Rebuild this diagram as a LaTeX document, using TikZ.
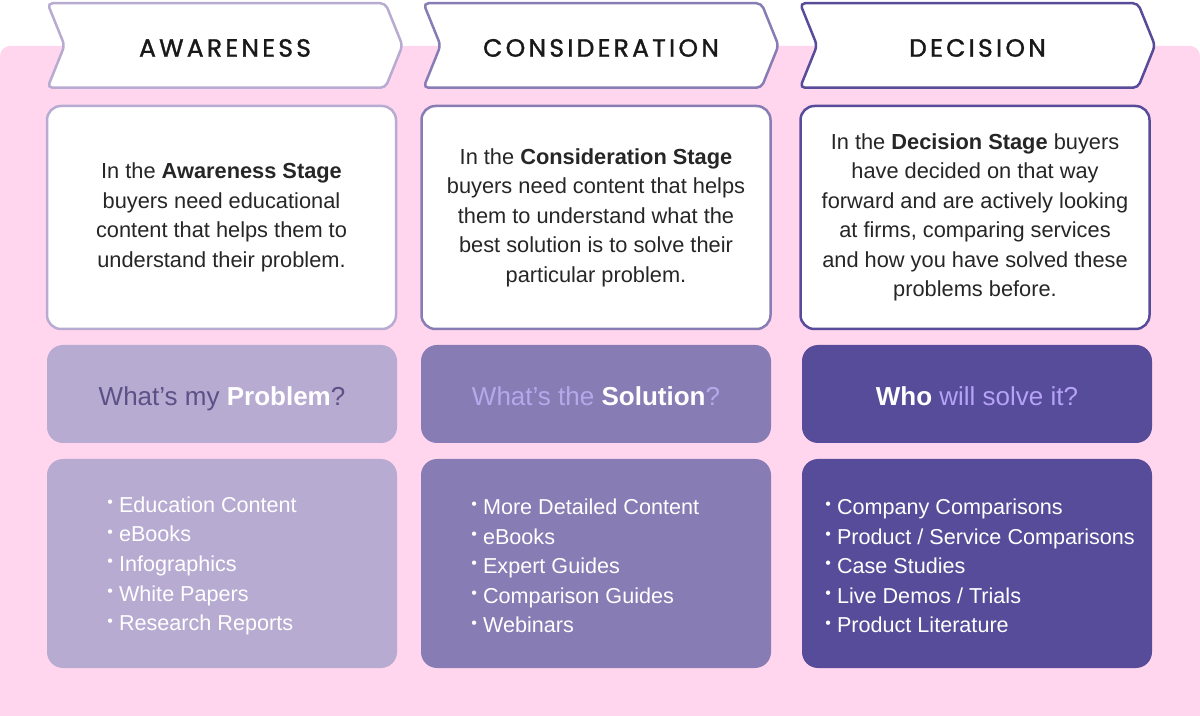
\documentclass[tikz,border=0pt]{standalone}
\usepackage{fontspec}
\setmainfont{Liberation Sans}
\newfontfamily\headfont[LetterSpace=13,FakeBold=1.3]{Poppins}
\usetikzlibrary{shapes.symbols}
\definecolor{bgpink}{RGB}{255,214,238}
\definecolor{awlight}{RGB}{184,171,210}
\definecolor{cnmid}{RGB}{136,124,181}
\definecolor{dcdark}{RGB}{87,76,153}
\definecolor{bodygray}{RGB}{38,38,38}
\definecolor{qdark}{RGB}{91,81,134}
\definecolor{qlight}{RGB}{180,170,235}
\definecolor{qlilac}{RGB}{181,163,245}
\tikzset{
  stagehead/.style={line width=1.25pt,fill=white,shape=signal,signal to=east,signal from=west,signal pointer angle=136,rounded corners=2.5pt,minimum width=177.5pt,minimum height=42.25pt,text height=11.2pt,text depth=0pt,font=\headfont\fontsize{12.5}{14}\selectfont,text=black!90},
  textbox/.style={line width=1.25pt,fill=white,rounded corners=7pt,minimum width=174.5pt,minimum height=111.5pt,align=center,font=\fontsize{10.9}{14.75}\selectfont,text=bodygray},
  qbox/.style={rounded corners=8pt,minimum width=175pt,minimum height=49pt,text height=13.2pt,text depth=2pt,font=\fontsize{13}{16}\selectfont},
  listbox/.style={rounded corners=8pt,minimum width=175pt,minimum height=104.5pt},
  listtext/.style={anchor=west,align=left,inner sep=0pt,text=white,font=\fontsize{10.8}{14.8}\selectfont}
}
\newcommand{\itm}{\raisebox{.22em}{\fontsize{8}{8}\selectfont •}\hspace{.28em}}

\begin{document}
\begin{tikzpicture}[x=0.5pt,y=-0.5pt]
\useasboundingbox (0,0) rectangle (1200,716);
\clip (0,0) rectangle (1200,716);
\fill[bgpink,rounded corners=5pt] (0,46) rectangle (1200,740);
% stage headers
\node[stagehead,draw=awlight] (awHead) at (225,45.5) {AWARENESS};
\node[stagehead,draw=cnmid] (cnHead) at (601,45.5) {CONSIDERATION};
\node[stagehead,draw=dcdark] (dcHead) at (977.5,45.5) {DECISION};
% descriptions
\node[textbox,draw=awlight] (awText) at (221.5,217.5) {In the \textbf{Awareness Stage}\\buyers need educational\\content that helps them to\\understand their problem.};
\node[textbox,draw=cnmid] (cnText) at (596,217.5) {In the \textbf{Consideration Stage}\\buyers need content that helps\\them to understand what the\\best solution is to solve their\\particular problem.};
\node[textbox,draw=dcdark] (dcText) at (975,217.5) {In the \textbf{Decision Stage} buyers\\have decided on that way\\forward and are actively looking\\at firms, comparing services\\and how you have solved these\\problems before.};
% questions
\node[qbox,fill=awlight,text=qdark] (awQ) at (222,394) {What’s my \textcolor{white}{\textbf{Problem}}?};
\node[qbox,fill=cnmid,text=qlight] (cnQ) at (596,394) {What’s the \textcolor{white}{\textbf{Solution}}?};
\node[qbox,fill=dcdark,text=qlilac] (dcQ) at (977,394) {\textcolor{white}{\textbf{Who}} will solve it?};
% content lists
\node[listbox,fill=awlight] (awList) at (222,563.5) {};
\node[listbox,fill=cnmid] (cnList) at (596,563.5) {};
\node[listbox,fill=dcdark] (dcList) at (977,563.5) {};
\node[listtext] (awItems) at (107,566) {\itm Education Content\\\itm eBooks\\\itm Infographics\\\itm White Papers\\\itm Research Reports};
\node[listtext] (cnItems) at (471,566) {\itm More Detailed Content\\\itm eBooks\\\itm Expert Guides\\\itm Comparison Guides\\\itm Webinars};
\node[listtext] (dcItems) at (825,566) {\itm Company Comparisons\\\itm Product / Service Comparisons\\\itm Case Studies\\\itm Live Demos / Trials\\\itm Product Literature};
\end{tikzpicture}
\end{document}
